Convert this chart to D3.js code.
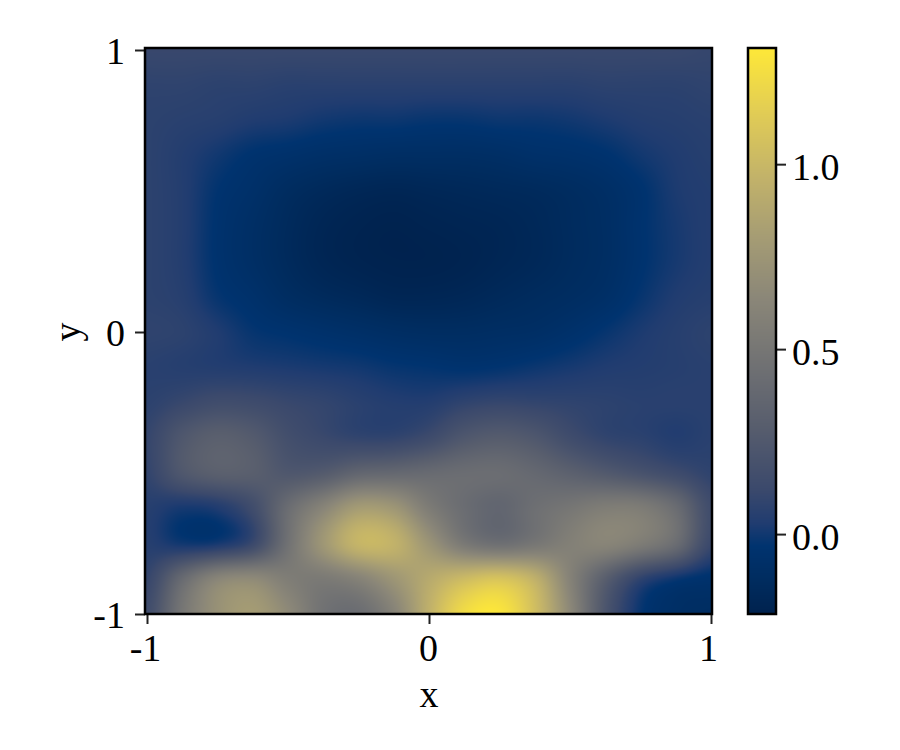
<!DOCTYPE html>
<html>
<head>
<meta charset="utf-8">
<script src="https://cdn.jsdelivr.net/npm/d3@7"></script>
<style>
  html, body { margin: 0; background: #fff; }
  svg { display: block; }
  text { font-family: "Liberation Serif", serif; fill: #000; }
  .axis path { display: none; }
  .axis line { stroke: #222; stroke-width: 2px; }
</style>
</head>
<body>
<div id="chart"></div>
<script>
// Grid nodes of the field, one row per y, top (y = 1) to bottom (y = -1).
var xNodes = [-1, -0.875, -0.75, -0.625, -0.5, -0.375, -0.25, -0.125, 0, 0.125, 0.25, 0.375, 0.5, 0.625, 0.75, 0.875, 1];
var yNodes = [1, 0.875, 0.75, 0.625, 0.5, 0.375, 0.25, 0.125, 0, -0.125, -0.25, -0.375, -0.5, -0.625, -0.75, -0.875, -1];
var fieldValues = [
  [0.11, 0.11, 0.11, 0.11, 0.11, 0.11, 0.11, 0.11, 0.11, 0.11, 0.11, 0.11, 0.11, 0.11, 0.11, 0.11, 0.10],
  [0.08, 0.08, 0.07, 0.07, 0.06, 0.06, 0.06, 0.06, 0.06, 0.06, 0.06, 0.06, 0.06, 0.07, 0.07, 0.07, 0.08],
  [0.07, 0.06, 0.05, 0.03, 0.02, 0.00, -0.01, -0.01, -0.02, -0.02, -0.01, -0.01, 0.00, 0.02, 0.04, 0.05, 0.06],
  [0.07, 0.04, 0.00, -0.04, -0.06, -0.08, -0.09, -0.10, -0.10, -0.10, -0.09, -0.07, -0.06, -0.04, 0.00, 0.03, 0.05],
  [0.07, 0.04, -0.03, -0.07, -0.12, -0.15, -0.17, -0.18, -0.17, -0.16, -0.15, -0.14, -0.12, -0.09, -0.04, 0.02, 0.04],
  [0.07, 0.04, -0.04, -0.09, -0.14, -0.18, -0.20, -0.21, -0.20, -0.19, -0.18, -0.16, -0.13, -0.10, -0.04, 0.01, 0.04],
  [0.07, 0.04, -0.04, -0.09, -0.14, -0.18, -0.20, -0.21, -0.21, -0.20, -0.18, -0.16, -0.13, -0.10, -0.04, 0.01, 0.04],
  [0.07, 0.05, -0.02, -0.06, -0.11, -0.14, -0.16, -0.18, -0.18, -0.17, -0.15, -0.13, -0.11, -0.08, -0.02, 0.03, 0.05],
  [0.08, 0.07, 0.03, -0.02, -0.04, -0.06, -0.08, -0.10, -0.11, -0.11, -0.10, -0.09, -0.06, -0.02, 0.02, 0.05, 0.07],
  [0.06, 0.05, 0.04, 0.03, 0.02, 0.01, 0.00, -0.02, -0.03, -0.04, -0.03, -0.01, 0.01, 0.03, 0.04, 0.05, 0.06],
  [0.07, 0.11, 0.15, 0.14, 0.11, 0.09, 0.06, 0.04, 0.04, 0.08, 0.10, 0.09, 0.08, 0.07, 0.06, 0.06, 0.06],
  [0.10, 0.24, 0.31, 0.27, 0.17, 0.12, 0.09, 0.09, 0.14, 0.24, 0.28, 0.24, 0.15, 0.09, 0.07, 0.04, 0.06],
  [0.09, 0.24, 0.31, 0.30, 0.24, 0.27, 0.36, 0.38, 0.40, 0.42, 0.42, 0.38, 0.32, 0.26, 0.20, 0.14, 0.08],
  [0.05, 0.01, 0.03, 0.15, 0.42, 0.62, 0.80, 0.76, 0.55, 0.42, 0.36, 0.44, 0.50, 0.56, 0.55, 0.42, 0.15],
  [0.05, 0.00, 0.01, 0.12, 0.46, 0.76, 0.98, 0.96, 0.74, 0.52, 0.44, 0.50, 0.58, 0.62, 0.55, 0.42, 0.12],
  [0.10, 0.40, 0.62, 0.66, 0.56, 0.53, 0.60, 0.75, 0.90, 1.02, 1.08, 0.95, 0.60, 0.30, 0.08, -0.01, -0.05],
  [0.15, 0.50, 0.72, 0.80, 0.66, 0.46, 0.42, 0.60, 0.95, 1.24, 1.30, 1.05, 0.65, 0.22, -0.02, -0.09, -0.11]
];
var xTicks = [-1, 0, 1];
var yTicks = [-1, 0, 1];
var colorTicks = [0, 0.5, 1];
var colorDomain = [-0.216, 1.314];
var cividisStops = ['#00224e', '#002c5f', '#00336f', '#203c70', '#3b496c', '#575d6d', '#707173', '#8a8678', '#a59c74', '#c3b369', '#e1cc55', '#fee838'];
var cividisAt = [0, 0.06, 0.12, 0.16, 0.22, 0.33, 0.44, 0.555, 0.665, 0.775, 0.885, 1];

var width = 900, height = 750;
var plot = { left: 145, right: 712, top: 48, bottom: 614 };
var bar = { left: 748, right: 776 };

var x = d3.scaleLinear().domain([-1, 1]).range([147, 711]);
var y = d3.scaleLinear().domain([-1, 1]).range([614, 50]);
var c = d3.scaleLinear().domain(colorDomain).range([plot.bottom, plot.top]);

var colorT = d3.scaleLinear().domain(colorDomain).range([0, 1]).clamp(true);
var colorRamp = d3.scaleLinear().domain(cividisAt).range(cividisStops).interpolate(d3.interpolateRgb);

var xNode = d3.scaleLinear().domain([-1, 1]).range([0, xNodes.length - 1]).clamp(true);
var yNode = d3.scaleLinear().domain([1, -1]).range([0, yNodes.length - 1]).clamp(true);

// Catmull-Rom, the display smoothing of the heatmap.
function cubic(a, b, c, d, t) {
  return b + 0.5 * t * (c - a + t * (2 * a - 5 * b + 4 * c - d + t * (3 * (b - c) + d - a)));
}

function fieldAt(px, py) {
  var fx = xNode(px), fy = yNode(py);
  var i = Math.min(Math.floor(fx), xNodes.length - 2), j = Math.min(Math.floor(fy), yNodes.length - 2);
  var rows = [];
  for (var n = -1; n <= 2; n++) {
    var row = fieldValues[Math.max(0, Math.min(yNodes.length - 1, j + n))];
    rows.push(cubic(
      row[Math.max(0, i - 1)], row[i], row[i + 1], row[Math.min(xNodes.length - 1, i + 2)], fx - i));
  }
  return cubic(rows[0], rows[1], rows[2], rows[3], fy - j);
}

function paint(w, h, valueAt) {
  var canvas = document.createElement('canvas');
  canvas.width = w;
  canvas.height = h;
  var ctx = canvas.getContext('2d');
  var img = ctx.createImageData(w, h);
  for (var r = 0; r < h; r++) {
    for (var q = 0; q < w; q++) {
      var col = d3.rgb(colorRamp(colorT(valueAt(q, r))));
      var o = (r * w + q) * 4;
      img.data[o] = col.r;
      img.data[o + 1] = col.g;
      img.data[o + 2] = col.b;
      img.data[o + 3] = 255;
    }
  }
  ctx.putImageData(img, 0, 0);
  return canvas.toDataURL();
}

var svg = d3.select('#chart').append('svg')
  .attr('width', width)
  .attr('height', height);

// Heatmap.
svg.append('image')
  .attr('x', plot.left).attr('y', plot.top)
  .attr('width', plot.right - plot.left).attr('height', plot.bottom - plot.top)
  .attr('href', paint(plot.right - plot.left, plot.bottom - plot.top, function(q, r) {
    return fieldAt(x.invert(plot.left + q + 0.5), y.invert(plot.top + r + 0.5));
  }));

// Colorbar.
svg.append('image')
  .attr('x', bar.left).attr('y', plot.top)
  .attr('width', bar.right - bar.left).attr('height', plot.bottom - plot.top)
  .attr('href', paint(bar.right - bar.left, plot.bottom - plot.top, function(q, r) {
    return c.invert(plot.top + r + 0.5);
  }));

// Axes.
var xAxis = svg.append('g').attr('class', 'x axis')
  .attr('transform', 'translate(0,' + plot.bottom + ')')
  .call(d3.axisBottom(x).tickValues(xTicks).tickSize(10).tickFormat(d3.format('d')));
xAxis.selectAll('text')
  .attr('y', 47).attr('dy', 0)
  .style('font-size', '38px')
  .attr('text-anchor', 'middle')
  .attr('dx', function(d) { return d == 1 ? -3 : (d == -1 ? -2 : -1); })
  .text(function(d) { return d == -1 ? '-1' : d; });

var yAxis = svg.append('g').attr('class', 'y axis')
  .attr('transform', 'translate(' + plot.left + ',0)')
  .call(d3.axisLeft(y).tickValues(yTicks).tickSize(10).tickFormat(d3.format('d')));
yAxis.selectAll('text')
  .attr('x', -20).attr('dy', 13)
  .style('font-size', '38px')
  .attr('text-anchor', 'end')
  .text(function(d) { return d == -1 ? '-1' : d; });

var colorAxis = svg.append('g').attr('class', 'color axis')
  .attr('transform', 'translate(' + bar.right + ',0)')
  .call(d3.axisRight(c).tickValues(colorTicks).tickSize(10).tickFormat(d3.format('.1f')));
colorAxis.selectAll('text')
  .attr('x', 16).attr('dy', 15)
  .style('font-size', '38px')
  .attr('text-anchor', 'start');

// Frames.
svg.append('rect')
  .attr('x', plot.left).attr('y', plot.top)
  .attr('width', plot.right - plot.left).attr('height', plot.bottom - plot.top)
  .attr('fill', 'none').attr('stroke', '#000').attr('stroke-width', 2.5);
svg.append('rect')
  .attr('x', bar.left).attr('y', plot.top)
  .attr('width', bar.right - bar.left).attr('height', plot.bottom - plot.top)
  .attr('fill', 'none').attr('stroke', '#000').attr('stroke-width', 2.5);

// Axis titles.
svg.append('text')
  .attr('x', 429).attr('y', 707)
  .attr('text-anchor', 'middle')
  .style('font-size', '38px')
  .text('x');
svg.append('text')
  .attr('transform', 'translate(80,332) rotate(-90)')
  .attr('text-anchor', 'middle')
  .style('font-size', '38px')
  .text('y');
</script>
</body>
</html>
